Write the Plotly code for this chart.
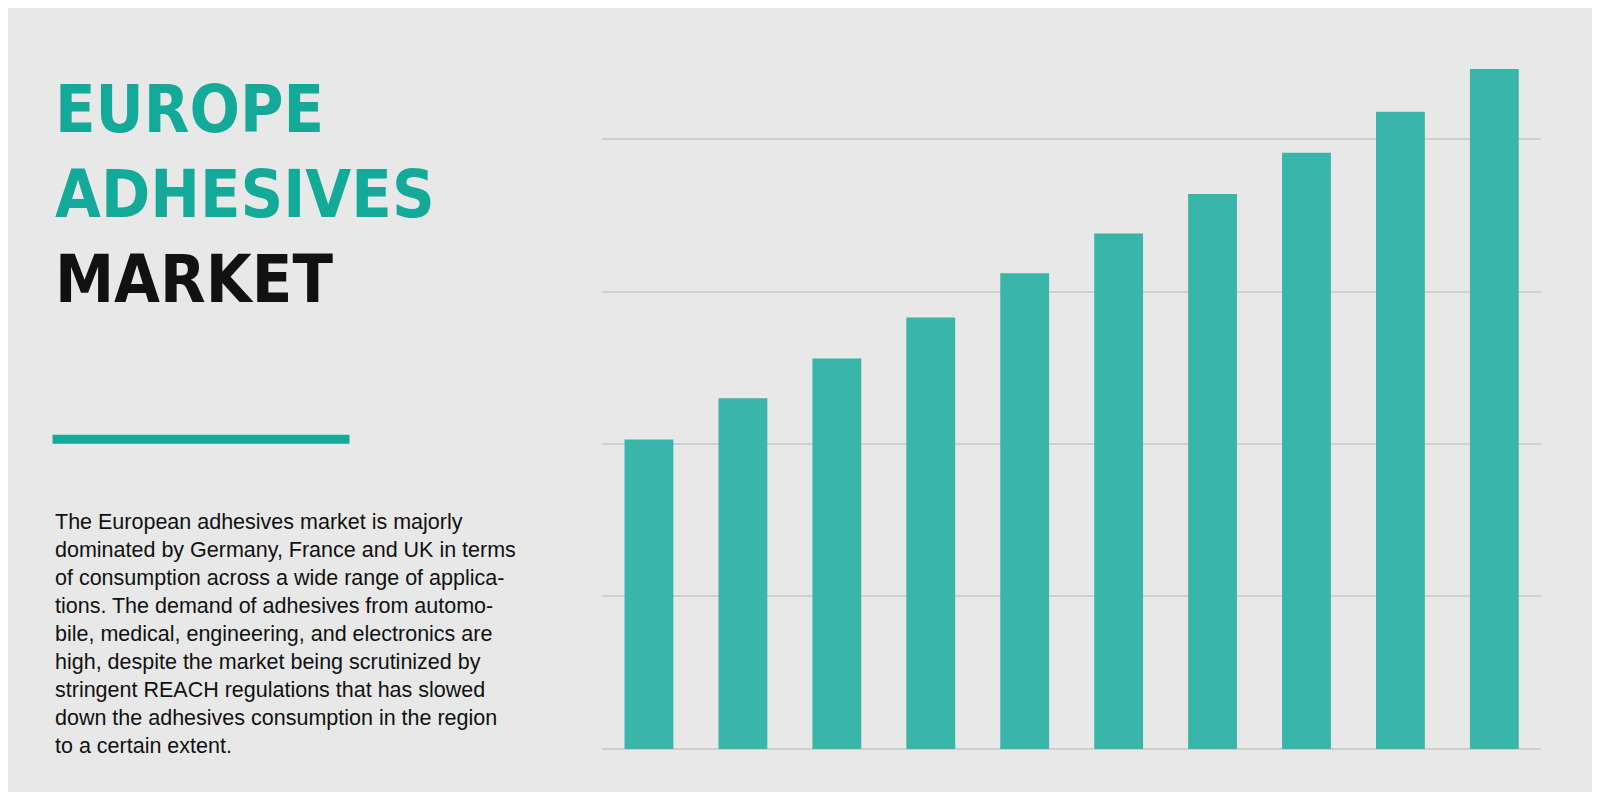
import plotly.graph_objects as go

# data (gridline step = 1 unit)
years = ['2016', '2017', '2018', '2019', '2020', '2021', '2022', '2023', '2024', '2025']
market_size = [2.03, 2.30, 2.56, 2.83, 3.12, 3.38, 3.64, 3.91, 4.18, 4.46]

body = ("The European adhesives market is majorly<br>"
        "dominated by Germany, France and UK in terms<br>"
        "of consumption across a wide range of applica-<br>"
        "tions. The demand of adhesives from automo-<br>"
        "bile, medical, engineering, and electronics are<br>"
        "high, despite the market being scrutinized by<br>"
        "stringent REACH regulations that has slowed<br>"
        "down the adhesives consumption in the region<br>"
        "to a certain extent.")

bg = '#e8e8e8'
teal = '#14aa9a'

fig = go.Figure(go.Bar(
    x=years, y=market_size, width=0.52,
    marker=dict(color='#38b6a9', line_width=0),
    hoverinfo='x+y'))

fig.update_layout(
    width=1584, height=784, margin=dict(l=0, r=0, t=0, b=0),
    paper_bgcolor=bg, plot_bgcolor=bg, showlegend=False,
    xaxis=dict(domain=[0.375, 0.968], showticklabels=False, showgrid=False,
               zeroline=False, showline=False),
    yaxis=dict(domain=[0.055, 0.93], range=[0, 4.5], dtick=1, showticklabels=False,
               gridcolor='#cfcfcf', gridwidth=2, zeroline=True,
               zerolinecolor='#cfcfcf', zerolinewidth=2),
)

title_font = 'DejaVu Sans Condensed, Liberation Sans Narrow, sans-serif'
for txt, y, col in [('EUROPE', 104, teal), ('ADHESIVES', 190, teal), ('MARKET', 277, '#111111')]:
    fig.add_annotation(text='<b>%s</b>' % txt, xref='paper', yref='paper',
                       x=45 / 1600, y=1 - y / 800, xanchor='left', yanchor='middle',
                       showarrow=False, font=dict(family=title_font, size=66, color=col))

fig.add_shape(type='line', xref='paper', yref='paper',
              x0=45 / 1600, x1=345 / 1600, y0=1 - 440 / 800, y1=1 - 440 / 800,
              line=dict(color=teal, width=9))

fig.add_annotation(text=body, xref='paper', yref='paper', x=45 / 1600, y=1 - 510 / 800,
                   xanchor='left', yanchor='top', align='left', showarrow=False,
                   font=dict(family='Liberation Sans, Arial, sans-serif', size=21.5, color='#111111'))

fig.write_html("out.html", config={'displayModeBar': False})
